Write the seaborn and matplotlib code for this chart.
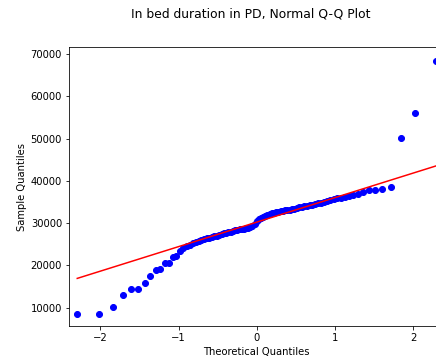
from statistics import NormalDist

import numpy as np
import pandas as pd
import matplotlib
matplotlib.use("Agg")
import matplotlib.pyplot as plt
import seaborn as sns

# Sorted in-bed durations (seconds) for the PD group
in_bed_low = [8440, 8510, 10170, 13000, 14350, 14420, 15770, 17430, 18920,
              19080, 20500, 20570, 21920, 22300, 23400]
in_bed_mid_low = [24000, 24500, 24900, 25250, 25450, 25700, 25950, 26250,
                  26400, 26550, 26700, 26850, 27000, 27200, 27400, 27600,
                  27750, 27850, 28000, 28150, 28300, 28400, 28500, 28600,
                  28700, 28800, 28950, 29100, 29400, 29800]
in_bed_mid_high = [30600, 31000, 31250, 31500, 31750, 31950, 32150, 32350,
                   32500, 32600, 32700, 32800, 32900, 33000, 33100, 33200,
                   33300, 33400, 33550, 33700, 33850, 33950, 34100, 34200,
                   34350, 34500, 34650, 34850, 35050, 35250, 35450, 35650,
                   35850, 36050, 36250, 36450, 36700, 36950, 37350, 37750,
                   37900, 38150, 38600]
in_bed_high = [50200, 56050, 68400]

title = "In bed duration in PD, Normal Q-Q Plot"
x_label = "Theoretical Quantiles"
y_label = "Sample Quantiles"

sample = np.sort(np.array(in_bed_low + in_bed_mid_low + in_bed_mid_high + in_bed_high, dtype=float))
n = len(sample)

# Theoretical normal quantiles at plotting positions i / (n + 1)
norm = NormalDist()
theoretical = np.array([norm.inv_cdf(i / (n + 1)) for i in range(1, n + 1)])

# Reference line through the quartiles
q25, q75 = np.percentile(sample, [25, 75])
tq25, tq75 = norm.inv_cdf(0.25), norm.inv_cdf(0.75)
slope = (q75 - q25) / (tq75 - tq25)
intercept = q25 - slope * tq25
line_x = np.array([theoretical.min(), theoretical.max()])
line_y = intercept + slope * line_x

df = pd.DataFrame({"theoretical": theoretical, "sample": sample})

dpi = 72
fig = plt.figure(figsize=(436 / dpi, 361 / dpi), dpi=dpi)
ax = fig.add_axes([0.1583, 0.0970, 0.8612, 0.772])

sns.scatterplot(data=df, x="theoretical", y="sample", ax=ax, color="blue",
                edgecolor="blue", s=36, linewidth=1, marker="o", zorder=2)
ax.plot(line_x, line_y, color="red", linewidth=1.5, zorder=3)

ax.set_xlim(-2.4, 2.4)
ax.set_ylim(5670, 71590)
ax.set_xticks([-2, -1, 0, 1, 2])
ax.set_yticks([10000, 20000, 30000, 40000, 50000, 60000, 70000])
ax.set_xlabel(x_label, fontsize=10)
ax.set_ylabel(y_label, fontsize=10)
ax.tick_params(labelsize=10)

fig.suptitle(title, fontsize=12.4, x=0.576, y=0.98)

fig.savefig("out.png", dpi=dpi)
